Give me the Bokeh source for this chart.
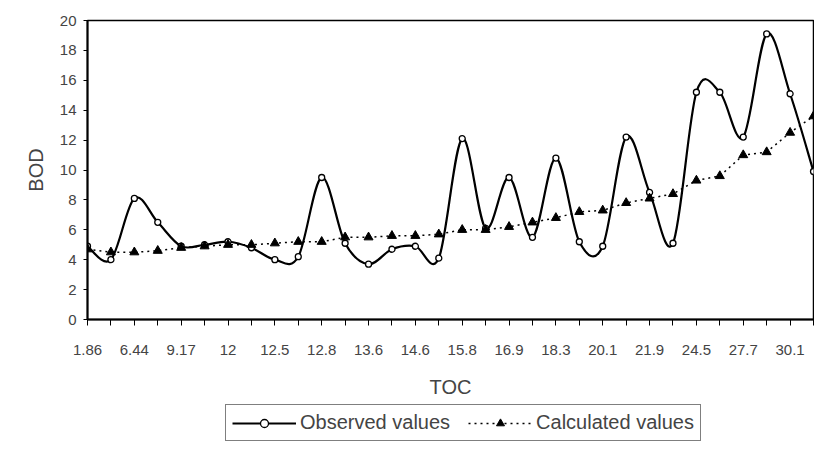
from bokeh.plotting import figure
from bokeh.layouts import column
from bokeh.models import Range1d, FixedTicker, Legend, LegendItem
from bokeh.embed import file_html
from bokeh.resources import INLINE

# TOC tick labels (every other sample is labelled)
toc_labels = ["1.86", "6.44", "9.17", "12", "12.5", "12.8", "13.6", "14.6",
              "15.8", "16.9", "18.3", "20.1", "21.9", "24.5", "27.7", "30.1"]

# BOD values
observed = [4.9, 4.0, 8.1, 6.5, 4.9, 5.0, 5.2, 4.8,
            4.0, 4.2, 9.5, 5.1, 3.7, 4.7, 4.9, 4.1,
            12.1, 6.1, 9.5, 5.5, 10.8, 5.2, 4.9, 12.2,
            8.5, 5.1, 15.2, 15.2, 12.2, 19.1, 15.1, 9.9]
calculated = [4.7, 4.5, 4.5, 4.6, 4.8, 4.9, 5.0, 5.0,
              5.1, 5.2, 5.2, 5.5, 5.5, 5.6, 5.6, 5.7,
              6.0, 6.0, 6.2, 6.5, 6.8, 7.2, 7.3, 7.8,
              8.1, 8.4, 9.3, 9.6, 11.0, 11.2, 12.5, 13.6]
y_ticks = list(range(0, 21, 2))

FONT = "Liberation Sans"
n = len(observed)
idx = list(range(n))

OBS_LINE = dict(line_color="black", line_width=2.2)
OBS_PT = dict(marker="circle", size=6, fill_color="white", line_color="black", line_width=1.3)
CALC_LINE = dict(line_color="black", line_width=1.5, line_dash="2 4")
CALC_PT = dict(marker="triangle", size=9, fill_color="black", line_color="black")

p = figure(width=814, height=400, output_backend="svg", toolbar_location=None,
           x_range=Range1d(0, n - 1), y_range=Range1d(0, 20),
           min_border_left=87, min_border_top=20, min_border_right=1,
           min_border_bottom=80, background_fill_color="white",
           border_fill_color="white")
p.xgrid.visible = False
p.ygrid.visible = False
p.outline_line_color = "black"
p.outline_line_width = 1.5

# smoothed observed curve: cubic Bezier segments (Catmull-Rom control points)
x0, y0, x1, y1, cx0, cy0, cx1, cy1 = [], [], [], [], [], [], [], []
for i in range(n - 1):
    ip = max(i - 1, 0)
    inn = min(i + 2, n - 1)
    x0.append(idx[i]); y0.append(observed[i])
    x1.append(idx[i + 1]); y1.append(observed[i + 1])
    cx0.append(idx[i] + (idx[i + 1] - idx[ip]) / 6)
    cy0.append(observed[i] + (observed[i + 1] - observed[ip]) / 6)
    cx1.append(idx[i + 1] - (idx[inn] - idx[i]) / 6)
    cy1.append(observed[i + 1] - (observed[inn] - observed[i]) / 6)

p.bezier(x0=x0, y0=y0, x1=x1, y1=y1, cx0=cx0, cy0=cy0, cx1=cx1, cy1=cy1,
         line_cap="round", **OBS_LINE)
p.scatter(idx, observed, **OBS_PT)
p.line(idx, calculated, **CALC_LINE)
p.scatter(idx, calculated, **CALC_PT)

# axes
xa = p.xaxis[0]
xa.ticker = FixedTicker(ticks=idx[::2], minor_ticks=idx[1::2])
xa.major_label_overrides = {t: lab for t, lab in zip(idx[::2], toc_labels)}
xa.axis_label = "TOC"
xa.axis_line_width = 2
xa.major_tick_out = 6
xa.major_tick_in = 0
xa.minor_tick_out = 6
xa.minor_tick_in = 0
xa.major_label_standoff = 19
xa.major_label_text_font = FONT
xa.major_label_text_font_size = "15px"
xa.axis_label_text_font = FONT
xa.axis_label_text_font_size = "20px"
xa.axis_label_text_font_style = "normal"
xa.axis_label_standoff = 18

ya = p.yaxis[0]
ya.ticker = FixedTicker(ticks=y_ticks, minor_ticks=[])
ya.axis_label = "BOD"
ya.axis_line_width = 2
ya.major_tick_out = 4
ya.major_tick_in = 0
ya.minor_tick_out = 0
ya.minor_tick_in = 0
ya.major_label_standoff = 7
ya.major_label_text_font = FONT
ya.major_label_text_font_size = "15px"
ya.axis_label_text_font = FONT
ya.axis_label_text_font_size = "20px"
ya.axis_label_text_font_style = "normal"
ya.axis_label_standoff = 10

# legend strip below the chart (same series, ranges keep them out of view)
lg = figure(width=814, height=46, output_backend="svg", toolbar_location=None,
            x_range=Range1d(0, n - 1), y_range=Range1d(-20, -10),
            x_axis_location=None, y_axis_location=None,
            min_border_left=87, min_border_right=1, min_border_top=0,
            min_border_bottom=0, background_fill_color="white",
            border_fill_color="white")
lg.xgrid.visible = False
lg.ygrid.visible = False
lg.outline_line_color = None
k_obs_line = lg.line(idx, observed, **OBS_LINE)
k_obs_pt = lg.scatter(idx, observed, **OBS_PT)
k_calc_line = lg.line(idx, calculated, **CALC_LINE)
k_calc_pt = lg.scatter(idx, calculated, **CALC_PT)

legend = Legend(items=[
    LegendItem(label="Observed values", renderers=[k_obs_line, k_obs_pt]),
    LegendItem(label="Calculated values", renderers=[k_calc_line, k_calc_pt]),
], orientation="horizontal", location=(138, 5))
legend.border_line_color = "black"
legend.border_line_width = 1
legend.background_fill_color = "white"
legend.padding = 6
legend.spacing = 18
legend.margin = 0
legend.glyph_width = 64
legend.glyph_height = 20
legend.label_standoff = 4
legend.label_text_font = FONT
legend.label_text_font_size = "20px"
lg.add_layout(legend, "center")

layout = column(p, lg, spacing=0)
open("out.html", "w").write(file_html(layout, INLINE))
